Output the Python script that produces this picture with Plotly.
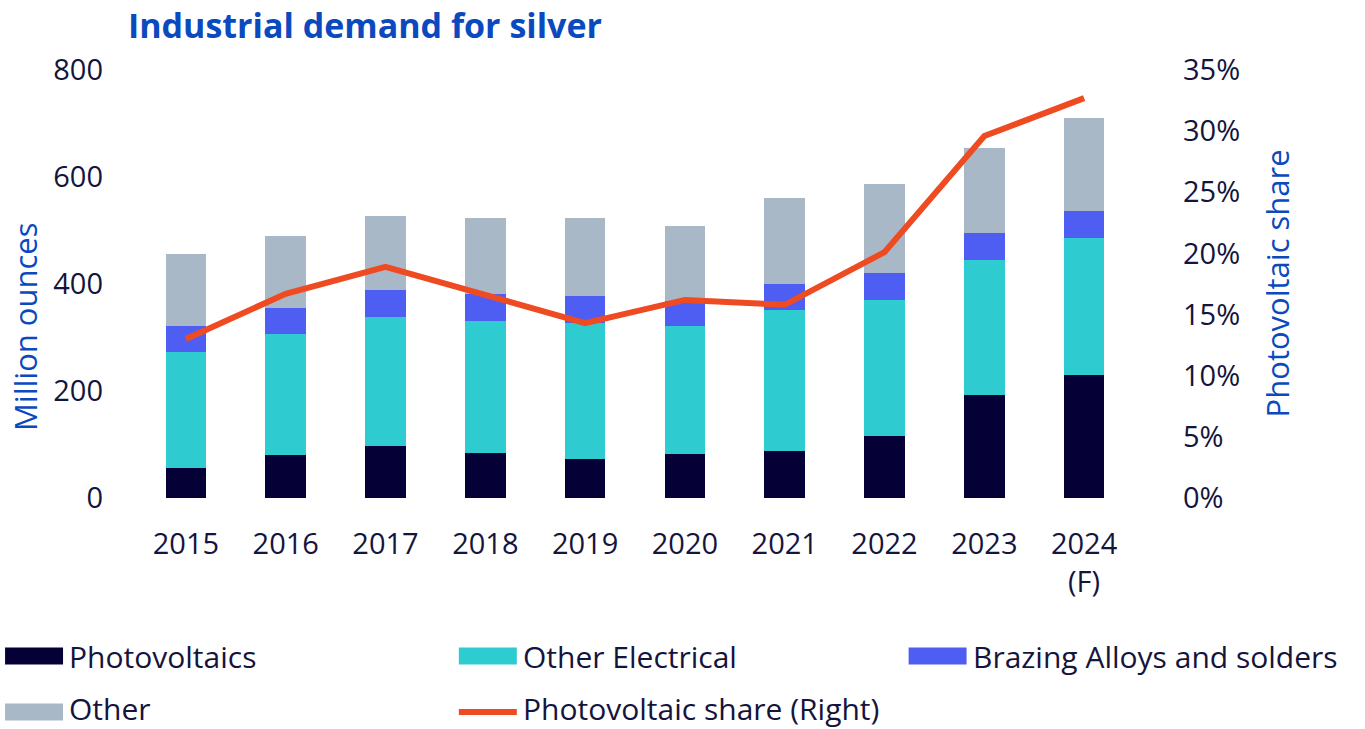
import plotly.graph_objects as go

# ---- data ----
years = ["2015", "2016", "2017", "2018", "2019", "2020", "2021", "2022", "2023", "2024<br>(F)"]
photovoltaics = [57, 80, 97, 85, 73, 82, 88, 116, 192, 230]
other_electrical = [215, 227, 241, 245, 254, 239, 263, 254, 252, 256]
brazing = [49, 49, 51, 51, 51, 47, 49, 50, 51, 50]
other = [135, 133, 138, 142, 145, 140, 161, 167, 159, 174]
pv_share = [13.0, 16.7, 18.9, 16.6, 14.3, 16.2, 15.8, 20.1, 29.6, 32.7]

series_names = ["Photovoltaics", "Other Electrical", "Brazing Alloys and solders", "Other"]
line_name = "Photovoltaic share (Right)"

# ---- styles ----
C_PV = "#050036"
C_OE = "#2ecbd1"
C_BA = "#4f5ef2"
C_OT = "#a9b8c7"
C_LINE = "#ef4b22"
C_TEXT = "#14143c"
C_BLUE = "#0b49bf"
FONT = "Open Sans"
FS = 29
FS_LEG = 30
FS_AX = 31

W, H = 1365, 729
L, R, T, B = 136, 1134.5, 70, 498


def pxx(x):
    return (x - L) / (R - L)


def pxy(y):
    return (B - y) / (B - T)


fig = go.Figure()
for vals, name, col in zip([photovoltaics, other_electrical, brazing, other], series_names,
                           [C_PV, C_OE, C_BA, C_OT]):
    fig.add_trace(go.Bar(x=years, y=vals, name=name, marker=dict(color=col, line=dict(width=0)),
                         width=0.405, showlegend=False))

fig.add_trace(go.Scatter(x=years, y=pv_share, name=line_name, mode="lines", yaxis="y2",
                         line=dict(color=C_LINE, width=6), showlegend=False))

fig.update_layout(
    width=W, height=H,
    barmode="stack",
    plot_bgcolor="white", paper_bgcolor="white",
    margin=dict(l=L, r=W - R, t=T, b=H - B, pad=0),
    font=dict(family=FONT, size=FS, color=C_TEXT),
    title=dict(text="<b>Industrial demand for silver</b>", x=128 / W, xanchor="left",
               xref="container", yref="container", y=1 - 26 / H, yanchor="middle",
               font=dict(family=FONT, size=34, color=C_BLUE)),
    xaxis=dict(showgrid=False, showline=False, zeroline=False, ticks="",
               tickfont=dict(size=FS, color=C_TEXT), ticklabelstandoff=26),
    yaxis=dict(range=[0, 800], dtick=200, showgrid=False, zeroline=False, showline=False,
               tickfont=dict(size=FS, color=C_TEXT), ticklabelstandoff=32),
    yaxis2=dict(range=[0, 35], dtick=5, ticksuffix="%", overlaying="y", side="right",
                showgrid=False, zeroline=False, showline=False,
                tickfont=dict(size=FS, color=C_TEXT), ticklabelstandoff=48),
    showlegend=False,
)

annotations = [
    dict(text="Million ounces", textangle=-90, xref="paper", yref="paper", x=pxx(25), y=pxy(327),
         showarrow=False, font=dict(size=FS_AX, color=C_BLUE), xanchor="center", yanchor="middle"),
    dict(text="Photovoltaic share", textangle=-90, xref="paper", yref="paper", x=pxx(1278), y=pxy(283),
         showarrow=False, font=dict(size=FS_AX, color=C_BLUE), xanchor="center", yanchor="middle"),
]

# manual legend (3 columns x 2 rows)
legend_items = [
    (series_names[0], C_PV, "bar", 5, 656),
    (series_names[1], C_OE, "bar", 459, 656),
    (series_names[2], C_BA, "bar", 909, 656),
    (series_names[3], C_OT, "bar", 5, 712),
    (line_name, C_LINE, "line", 459, 712),
]
shapes = []
for name, col, kind, x0, yc in legend_items:
    if kind == "bar":
        shapes.append(dict(type="rect", xref="paper", yref="paper", x0=pxx(x0), x1=pxx(x0 + 58),
                           y0=pxy(yc - 8.5), y1=pxy(yc + 8.5), fillcolor=col, line=dict(width=0)))
    else:
        shapes.append(dict(type="line", xref="paper", yref="paper", x0=pxx(x0), x1=pxx(x0 + 58),
                           y0=pxy(yc), y1=pxy(yc), line=dict(color=col, width=6)))
    ty = min(yc, 708)
    annotations.append(dict(text=name, xref="paper", yref="paper", x=pxx(x0 + 62), y=pxy(ty),
                            xanchor="left", yanchor="middle", showarrow=False,
                            font=dict(size=FS_LEG, color=C_TEXT)))

fig.update_layout(annotations=annotations, shapes=shapes)
fig.write_html("out.html")
